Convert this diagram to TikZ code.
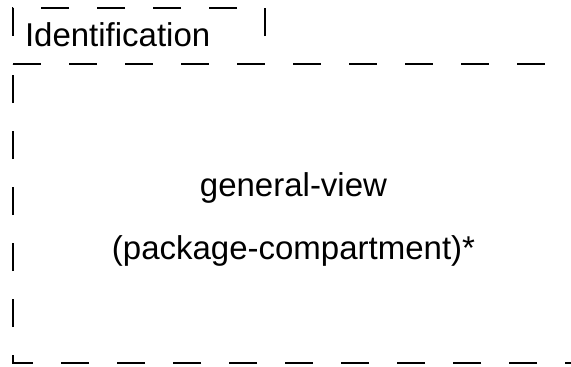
\documentclass[tikz,border=0pt]{standalone}
\usepackage{fontspec}
\setmainfont{Liberation Sans}
\begin{document}
\begin{tikzpicture}[x=1pt,y=-1pt,
  frame/.style={draw=black,line width=2.6pt,dash pattern=on 28pt off 28pt,line cap=butt},
  label/.style={inner sep=0pt,outer sep=0pt,font=\fontsize{33}{40}\selectfont}]
\useasboundingbox (0,0) rectangle (571,367);
\clip (0,0) rectangle (571,367);
% main body
\draw[frame] (13,64) -- (573.5,64) -- (573.5,363) -- (13,363) -- cycle;
% identification tab
\draw[frame] (13,64) -- (265,64) -- (265,8) -- (13,8) -- cycle;
\node[label,anchor=base west] (ident) at (25,46) {Identification};
\node[label,anchor=base] (gv) at (293.5,196) {general-view};
\node[label,anchor=base] (pc) at (293.5,259) {(package-compartment)*};
\end{tikzpicture}
\end{document}
